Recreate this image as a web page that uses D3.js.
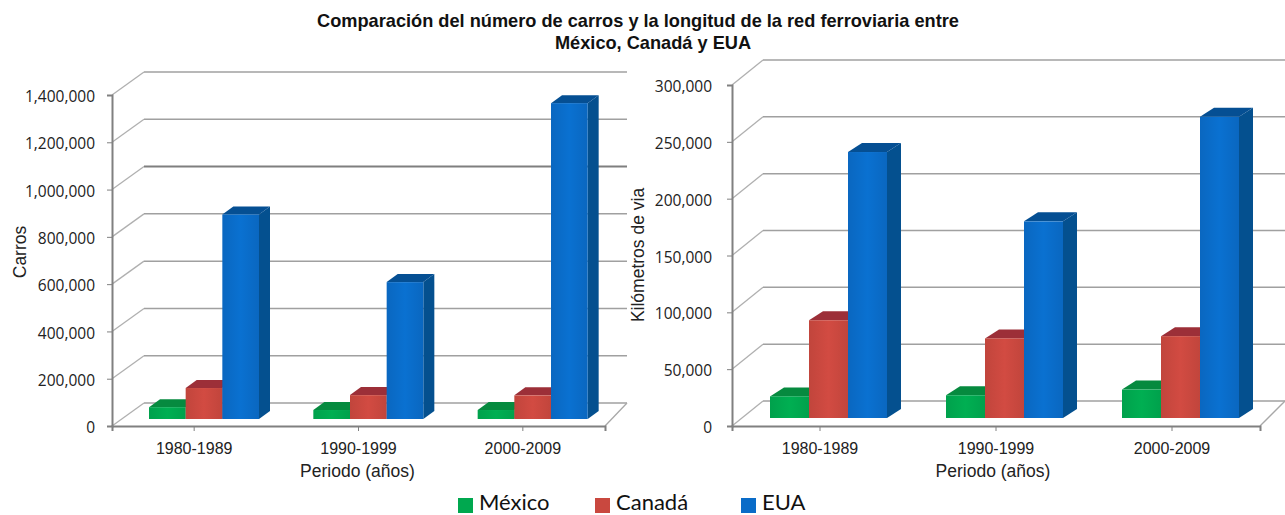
<!DOCTYPE html>
<html><head><meta charset="utf-8">
<script src="https://cdn.jsdelivr.net/npm/d3@7"></script>
<style>html,body{margin:0;padding:0;background:#fff;overflow:hidden}svg{display:block}</style>
</head><body><svg id="c" width="1285" height="515"></svg>
<script>
const categories = ["1980-1989","1990-1999","2000-2009"];
const seriesNames = ["México","Canadá","EUA"];
const carrosMexico = [50000,38000,38000];
const carrosCanada = [131000,101000,100000];
const carrosEUA = [865000,579000,1336000];
const viaMexico = [19000,20000,25000];
const viaCanada = [86000,70000,72000];
const viaEUA = [234000,173000,265000];
const carrosTicks = [0,200000,400000,600000,800000,1000000,1200000,1400000];
const viaTicks = [0,50000,100000,150000,200000,250000,300000];

const front = ["#00a84f","#c9483f","#0a6cc8"], top_ = ["#068a3f","#9c2f38","#054f93"], side = ["#057a38","#8f2f30","#04508f"];
const svg = d3.select("#c");
const defs = svg.append("defs");
front.forEach((c,i)=>{
  const g = defs.append("linearGradient").attr("id","g"+i).attr("x1",0).attr("x2",1).attr("y1",0).attr("y2",0);
  g.append("stop").attr("offset",0).attr("stop-color",d3.color(c).darker(.12));
  g.append("stop").attr("offset",.5).attr("stop-color",d3.color(c).brighter(.12));
  g.append("stop").attr("offset",1).attr("stop-color",d3.color(c).darker(.12));
});
const fmt = d3.format(",");

function panel(o){
  const x = d3.scaleBand().domain(categories).range([o.x0,o.x1]);
  const y = d3.scaleLinear().domain(o.domain).range([o.y0,o.yTop]);
  const g = svg.append("g");
  const inner = d3.scaleBand().domain(seriesNames).range([0,o.groupW]);
  const clipR = o.clipX;
  g.selectAll(".slant").data(o.ticks).join("line")
    .attr("x1",o.x0).attr("x2",o.x0+o.backX).attr("y1",d=>y(d)).attr("y2",d=>y(d)-o.backY)
    .attr("stroke","#b0b0b0").attr("stroke-width",1.3);
  g.selectAll(".grid").data(o.ticks).join("line")
    .attr("x1",o.x0+o.backX).attr("x2",clipR).attr("y1",d=>y(d)-o.backY).attr("y2",d=>y(d)-o.backY)
    .attr("stroke",d=>d===o.heavy?"#7f7f7f":"#a0a0a0").attr("stroke-width",d=>d===o.heavy?2:1.5);
  g.append("line").attr("x1",o.x1).attr("y1",y(0)).attr("x2",clipR).attr("y2",y(0)-o.backY).attr("stroke","#a8a8a8").attr("stroke-width",1.3);
  const ay = d3.axisLeft(y).tickValues(o.ticks).tickFormat(fmt).tickSize(5).tickPadding(o.tickPad);
  const yg = g.append("g").attr("transform",`translate(${o.x0},0)`).call(ay);
  const ax = d3.axisBottom(x).tickSize(5).tickPadding(12).tickSizeOuter(5);
  const xg = g.append("g").attr("transform",`translate(0,${o.y0})`).call(ax);
  [yg,xg].forEach(a=>{a.selectAll("path,line").attr("stroke","#808080");a.select("path").attr("stroke-width",2);});
  yg.selectAll("text").attr("font-family","'Open Sans'").attr("font-size",o.tickSize).attr("fill","#222").attr("dy","0.62em").attr("y",-3);
  xg.selectAll("text").attr("font-family","'Liberation Sans'").attr("font-size",16).attr("fill","#222");
  o.series.forEach((vals,si)=>{
    vals.forEach((v,ci)=>{
      const bx = x(categories[ci])+o.groupOffset+inner(seriesNames[si]);
      const bw = inner.bandwidth();
      const bt = y(v)-o.barDy, bb = y(0)-o.barDy;
      const gg = g.append("g");
      gg.append("path").attr("fill",side[si])
        .attr("d",d3.line()([[bx+bw,bt],[bx+bw+o.depthX,bt-o.depthY],[bx+bw+o.depthX,bb-o.depthY],[bx+bw,bb]]));
      gg.append("path").attr("fill",top_[si])
        .attr("d",d3.line()([[bx,bt],[bx+o.depthX,bt-o.depthY],[bx+bw+o.depthX,bt-o.depthY],[bx+bw,bt]]));
      gg.append("rect").attr("x",bx).attr("y",bt).attr("width",bw).attr("height",bb-bt).attr("fill",`url(#g${si})`);
    });
  });
  g.append("text").attr("x",(o.x0+o.x1)/2+o.xTitleDx).attr("y",477).attr("text-anchor","middle")
    .attr("font-family","'Liberation Sans'").attr("font-size",17.5).attr("fill","#222").text("Periodo (años)");
  g.append("text").attr("transform",`translate(${o.yTitleX},${o.yTitleY}) rotate(-90)`).attr("text-anchor","middle")
    .attr("font-family","'Liberation Sans'").attr("font-size",17.5).attr("fill","#222").text(o.yTitle);
}

panel({x0:112,x1:605,y0:426,yTop:95,domain:[0,1400000],ticks:carrosTicks,heavy:1000000,clipX:627,backX:32,backY:23,
  series:[carrosMexico,carrosCanada,carrosEUA],groupOffset:37,groupW:110,barDy:7,depthX:11,depthY:8,tickSize:15.5,tickPad:12,
  xTitleDx:-1,yTitle:"Carros",yTitleX:26,yTitleY:252});
panel({x0:732,x1:1260,y0:426,yTop:85,domain:[0,300000],ticks:viaTicks,heavy:null,clipX:1285,backX:31,backY:25,
  series:[viaMexico,viaCanada,viaEUA],groupOffset:38,groupW:117,barDy:8,depthX:14,depthY:9,tickSize:15.5,tickPad:15,
  xTitleDx:-3,yTitle:"Kilómetros de via",yTitleX:644,yTitleY:255});

const t = svg.append("text").attr("text-anchor","middle").attr("font-family","'Liberation Sans'").attr("font-weight","bold").attr("font-size",18.2).attr("fill","#111");
t.append("tspan").attr("x",638).attr("y",27).text("Comparación del número de carros y la longitud de la red ferroviaria entre");
t.append("tspan").attr("x",653).attr("y",49).text("México, Canadá y EUA");

const lx = d3.scaleOrdinal().domain(seriesNames).range([458,595,741]);
const lg = svg.selectAll(".leg").data(seriesNames).join("g").attr("transform",d=>`translate(${lx(d)},498)`);
lg.append("rect").attr("width",15).attr("height",15).attr("fill",(d,i)=>front[i]);
lg.append("text").attr("x",21).attr("y",12).attr("font-family","Lato").attr("font-size",22).attr("fill","#111").text(d=>d);
</script></body></html>
